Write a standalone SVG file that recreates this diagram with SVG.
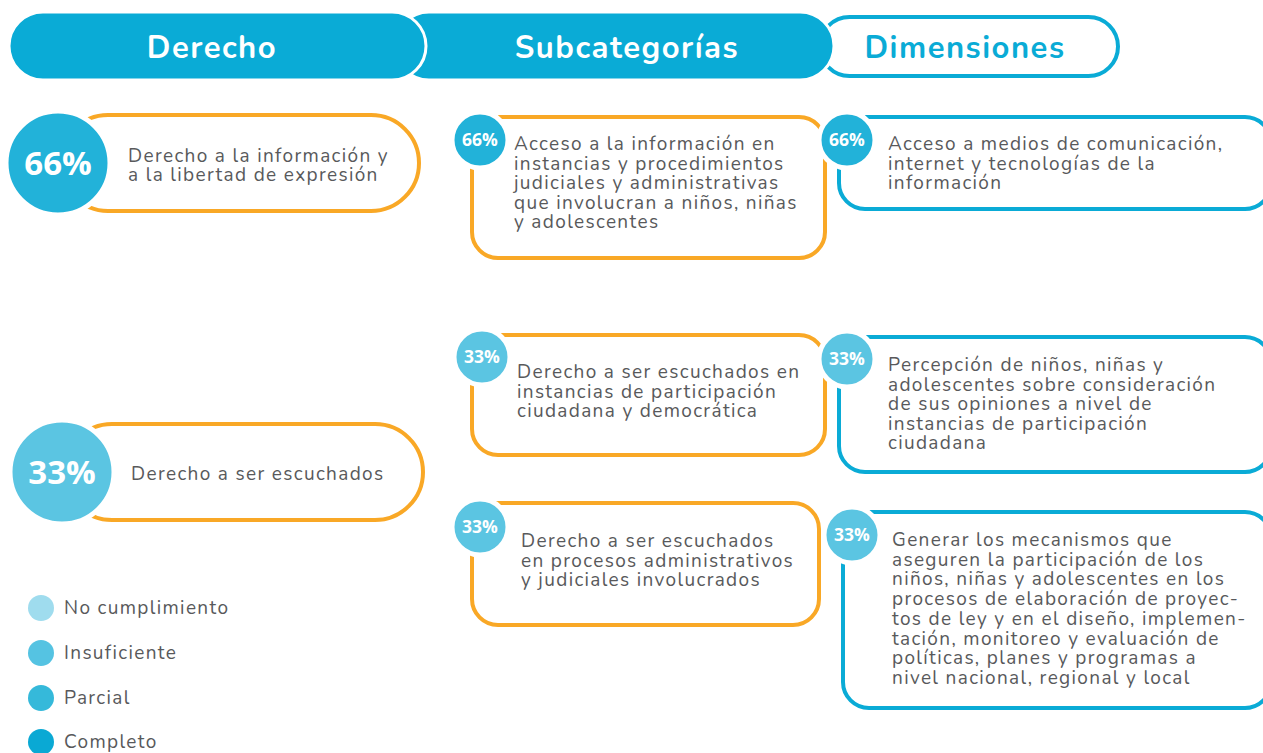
<svg xmlns="http://www.w3.org/2000/svg" width="1263" height="753" viewBox="0 0 1263 753">
<style>
.hdr{font-family:"Nunito","Open Sans","Noto Sans",sans-serif;font-weight:700;font-size:31px;letter-spacing:1.5px;text-anchor:middle}
.t{font-family:"Nunito","Open Sans","Noto Sans",sans-serif;font-size:19px;letter-spacing:1.35px;fill:#58595B}
.ob{fill:#fff;stroke:#F9A826;stroke-width:4}
.bb{fill:#fff;stroke:#0AABD6;stroke-width:4}
.big{font-family:"Open Sans","Noto Sans",sans-serif;font-weight:700;font-size:33px;fill:#fff;text-anchor:middle}
.sm{font-family:"Open Sans","Noto Sans",sans-serif;font-weight:700;font-size:17.5px;fill:#fff;text-anchor:middle}
.ring{stroke:#fff;stroke-width:5}
.c66{fill:#22B2D9}
.c33{fill:#5BC5E2}
</style>
<g id="headers">
<rect x="820" y="17" width="298" height="59" rx="29.5" fill="#fff" stroke="#0AABD6" stroke-width="4"/>
<text class="hdr" x="965" y="58" fill="#0AABD6">Dimensiones</text>
<rect x="395" y="12" width="439" height="68" rx="34" fill="#0AABD6" stroke="#fff" stroke-width="3"/>
<text class="hdr" x="627" y="58" fill="#fff">Subcategorías</text>
<rect x="9" y="12" width="417" height="68" rx="34" fill="#0AABD6" stroke="#fff" stroke-width="3"/>
<text class="hdr" x="212" y="58" fill="#fff">Derecho</text>
</g>
<g id="connectors"></g>
<g id="derecho1">
<rect class="ob" x="60" y="115" width="359" height="96" rx="48"/>
<circle class="c66 ring" cx="58" cy="163" r="52"/>
<text class="big" x="58" y="175">66%</text>
<text class="t" x="128" y="162">Derecho a la información y</text>
<text class="t" x="128" y="181">a la libertad de expresión</text>
</g>
<g id="derecho2">
<rect class="ob" x="64" y="424" width="359" height="96" rx="48"/>
<circle class="c33 ring" cx="62" cy="472" r="52"/>
<text class="big" x="62" y="484">33%</text>
<text class="t" x="131" y="480">Derecho a ser escuchados</text>
</g>
<g id="sub1">
<rect class="ob" x="472" y="117" width="353" height="141" rx="26"/>
<circle class="c66 ring" cx="480" cy="140" r="28"/>
<text class="sm" x="480" y="146">66%</text>
<text class="t" x="514"><tspan x="514" y="150">Acceso a la información en</tspan><tspan x="514" y="169.5">instancias y procedimientos</tspan><tspan x="514" y="189">judiciales y administrativas</tspan><tspan x="514" y="208.5">que involucran a niños, niñas</tspan><tspan x="514" y="228">y adolescentes</tspan></text>
</g>
<g id="sub2">
<rect class="ob" x="472" y="335" width="353" height="120" rx="26"/>
<circle class="c33 ring" cx="482" cy="357" r="28"/>
<text class="sm" x="482" y="363">33%</text>
<text class="t" x="517"><tspan x="517" y="378">Derecho a ser escuchados en</tspan><tspan x="517" y="397.5">instancias de participación</tspan><tspan x="517" y="417">ciudadana y democrática</tspan></text>
</g>
<g id="sub3">
<rect class="ob" x="472" y="503" width="347" height="122" rx="26"/>
<circle class="c33 ring" cx="480" cy="527" r="28"/>
<text class="sm" x="480" y="533">33%</text>
<text class="t" x="521"><tspan x="521" y="547">Derecho a ser escuchados</tspan><tspan x="521" y="566.5">en procesos administrativos</tspan><tspan x="521" y="586">y judiciales involucrados</tspan></text>
</g>
<g id="dim1">
<rect class="bb" x="839" y="117" width="432" height="92" rx="26"/>
<circle class="c66 ring" cx="847" cy="140" r="28"/>
<text class="sm" x="847" y="146">66%</text>
<text class="t" x="888"><tspan x="888" y="150">Acceso a medios de comunicación,</tspan><tspan x="888" y="169.5">internet y tecnologías de la</tspan><tspan x="888" y="189">información</tspan></text>
</g>
<g id="dim2">
<rect class="bb" x="839" y="337" width="432" height="135" rx="26"/>
<circle class="c33 ring" cx="847" cy="359" r="28"/>
<text class="sm" x="847" y="365">33%</text>
<text class="t" x="888"><tspan x="888" y="371">Percepción de niños, niñas y</tspan><tspan x="888" y="390.5">adolescentes sobre consideración</tspan><tspan x="888" y="410">de sus opiniones a nivel de</tspan><tspan x="888" y="429.5">instancias de participación</tspan><tspan x="888" y="449">ciudadana</tspan></text>
</g>
<g id="dim3">
<rect class="bb" x="843" y="512" width="428" height="196" rx="26"/>
<circle class="c33 ring" cx="852" cy="535" r="28"/>
<text class="sm" x="852" y="541">33%</text>
<text class="t" x="892"><tspan x="892" y="546">Generar los mecanismos que</tspan><tspan x="892" y="565.7">aseguren la participación de los</tspan><tspan x="892" y="585.4">niños, niñas y adolescentes en los</tspan><tspan x="892" y="605.1">procesos de elaboración de proyec-</tspan><tspan x="892" y="624.8">tos de ley y en el diseño, implemen-</tspan><tspan x="892" y="644.5">tación, monitoreo y evaluación de</tspan><tspan x="892" y="664.2">políticas, planes y programas a</tspan><tspan x="892" y="683.9">nivel nacional, regional y local</tspan></text>
</g>
<g id="legend">
<circle cx="41" cy="608" r="13" fill="#9FDCEE"/>
<text class="t" x="64" y="614">No cumplimiento</text>
<circle cx="41" cy="653" r="13" fill="#55C3E2"/>
<text class="t" x="64" y="659">Insuficiente</text>
<circle cx="41" cy="698" r="13" fill="#35B9DA"/>
<text class="t" x="64" y="704">Parcial</text>
<circle cx="41" cy="742" r="13" fill="#0AA9D4"/>
<text class="t" x="64" y="748">Completo</text>
</g>
</svg>
